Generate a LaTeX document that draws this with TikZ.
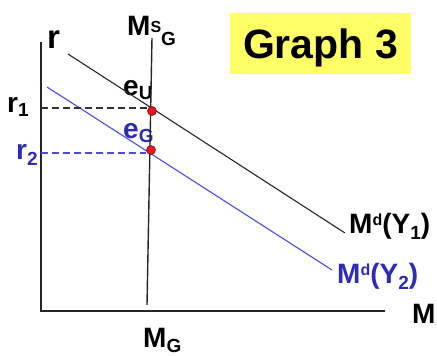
\documentclass[tikz,border=0pt]{standalone}
\usepackage{fontspec}
\setmainfont{Liberation Sans}
\usetikzlibrary{positioning}
\definecolor{CurveBlue}{HTML}{4B4BE6}
\definecolor{LabelBlue}{HTML}{2C2CB8}
\definecolor{NoteYellow}{HTML}{FFFF66}
\definecolor{DotRed}{HTML}{E8141E}
\newcommand{\upsc}[2][8pt]{\raisebox{#1}{\fontsize{16}{16}\selectfont #2}}
\newcommand{\dnsc}[2][-6pt]{\raisebox{#1}{\fontsize{19}{19}\selectfont #2}}

\begin{document}
\begin{tikzpicture}[x=1pt, y=-1pt,
  lbl/.style={font=\fontsize{28}{30}\selectfont\bfseries, inner sep=0pt, anchor=base west},
  axis/.style={line width=1.5pt, draw=black!85},
  curve/.style={line width=1.1pt},
  guide/.style={line width=1.1pt, dash pattern=on 7pt off 4pt},
  eqdot/.style={circle, fill=DotRed, draw=red!50!black, line width=0.5pt, inner sep=0pt, minimum size=9pt}]
\useasboundingbox (0,0) rectangle (437,356);
\node[fill=NoteYellow, minimum width=181pt, minimum height=61pt, text depth=0pt,
  font=\fontsize{41}{44}\selectfont\bfseries] (title) at (320.5,43.5) {Graph 3};
\node[lbl, font=\fontsize{33}{35}\selectfont\bfseries] (rlab) at (47,48) {r};
\node[lbl] (mslab) at (127,35) {M\upsc[3pt]{S}\dnsc[-10pt]{G}};
\node[lbl] (r1lab) at (7,112) {r\dnsc[-4pt]{1}};
\node[lbl, text=LabelBlue] (r2lab) at (16,159) {r\dnsc[-6pt]{2}};
\node[lbl] (eulab) at (123,95) {e\dnsc[-4pt]{U}};
\node[lbl, text=LabelBlue] (eglab) at (123,138) {e\dnsc[-4pt]{G}};
\node[lbl] (d1lab) at (349,233) {M\upsc{d}(Y\dnsc{1})};
\node[lbl, text=LabelBlue] (d2lab) at (337,283) {M\upsc{d}(Y\dnsc{2})};
\node[lbl] (mlab) at (412,323) {M};
\node[lbl] (mglab) at (143,347) {M\dnsc[-5pt]{G}};
\coordinate (ytop) at (41,42);
\coordinate (o) at (41,311);
\coordinate (xend) at (385,311);
\coordinate (mstop) at (152,38);
\coordinate (msbot) at (147,305);
\coordinate (d1a) at (68,54);
\coordinate (d1b) at (345,233);
\coordinate (d2a) at (47,87);
\coordinate (d2b) at (332,270);
\coordinate (r1a) at (41,108);
\coordinate (r2a) at (41,153);
\draw[axis] (ytop) -- (o) -- (xend);
\draw[curve, draw=black!85] (d1a) -- (d1b);
\draw[curve, draw=CurveBlue] (d2a) -- (d2b);
\draw[curve, line width=1.4pt, draw=black!85] (mstop) -- (msbot);
\node[eqdot] (eu) at (152,111) {};
\node[eqdot] (eg) at (151,150) {};
\draw[guide, draw=black!80] (r1a) -- (r1a -| eu.west);
\draw[guide, draw=CurveBlue] (r2a) -- (r2a -| eg.west);
\end{tikzpicture}
\end{document}
